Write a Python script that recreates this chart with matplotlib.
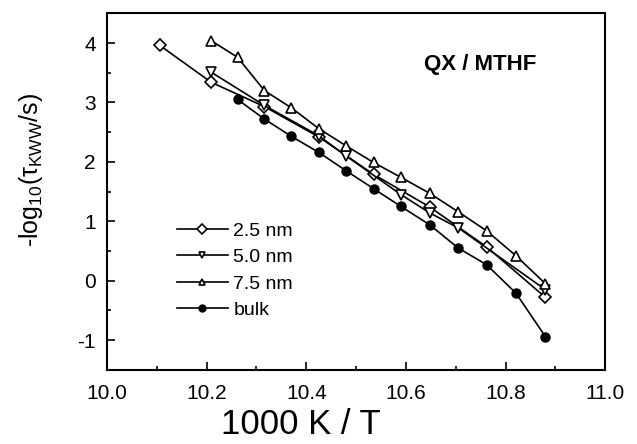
import numpy as np
import matplotlib.pyplot as plt
from matplotlib.ticker import MultipleLocator

plt.rcParams['font.family'] = ['Liberation Sans', 'DejaVu Sans']
plt.rcParams['mathtext.fontset'] = 'custom'
plt.rcParams['mathtext.rm'] = 'Liberation Sans'
plt.rcParams['mathtext.it'] = 'Liberation Sans'
plt.rcParams['axes.unicode_minus'] = False

# 2.5 nm pores
x25 = [10.106, 10.209, 10.316, 10.425, 10.535, 10.648, 10.762, 10.88]
y25 = [3.96, 3.34, 2.93, 2.42, 1.79, 1.24, 0.57, -0.28]

# 5.0 nm pores
x50 = [10.209, 10.316, 10.425, 10.48, 10.59, 10.648, 10.705, 10.88]
y50 = [3.51, 2.95, 2.44, 2.10, 1.45, 1.14, 0.89, -0.15]

# 7.5 nm pores
x75 = [10.209, 10.262, 10.316, 10.37, 10.425, 10.48, 10.535, 10.59,
       10.648, 10.705, 10.762, 10.821, 10.88]
y75 = [4.04, 3.76, 3.20, 2.91, 2.56, 2.27, 1.99, 1.74,
       1.47, 1.16, 0.84, 0.42, -0.05]

# bulk
xb = [10.262, 10.316, 10.37, 10.425, 10.48, 10.535, 10.59, 10.648,
      10.705, 10.762, 10.821, 10.88]
yb = [3.05, 2.72, 2.43, 2.16, 1.85, 1.55, 1.25, 0.94,
      0.55, 0.27, -0.21, -0.94]

fig = plt.figure(figsize=(6.37, 4.44), dpi=100)
ax = fig.add_axes([0.168, 0.167, 0.782, 0.803])

kw = dict(color='k', lw=1.2, mfc='white', mec='k', mew=1.2)
ax.plot(x25, y25, marker='D', ms=6, label='2.5 nm', **kw)
ax.plot(x50, y50, marker='v', ms=7, label='5.0 nm', **kw)
ax.plot(x75, y75, marker='^', ms=7, label='7.5 nm', **kw)
ax.plot(xb, yb, marker='o', ms=6.5, color='k', lw=1.2, mfc='k', mec='k',
        label='bulk')

ax.set_xlim(10.0, 11.0)
ax.set_ylim(-1.5, 4.5)
ax.xaxis.set_major_locator(MultipleLocator(0.2))
ax.xaxis.set_minor_locator(MultipleLocator(0.1))
ax.yaxis.set_major_locator(MultipleLocator(1))
ax.yaxis.set_minor_locator(MultipleLocator(0.5))
ax.tick_params(which='both', direction='in', top=False, right=False,
               labelsize=15, width=1.2)
ax.tick_params(which='major', length=6)
ax.tick_params(which='minor', length=3)
ax.tick_params(axis='x', pad=10)
ax.tick_params(axis='y', pad=8)
for s in ax.spines.values():
    s.set_linewidth(1.5)

ax.set_xlabel('1000 K / T', fontsize=25, va='center')
ax.xaxis.set_label_coords(0.39, -0.154)
ax.set_ylabel(r'-log$_{10}$($\tau_{\mathrm{KWW}}$/s)', fontsize=18)
ax.yaxis.set_label_coords(-0.125, 0.56)

ax.text(0.75, 0.857, 'QX / MTHF', transform=ax.transAxes, fontsize=16,
        fontweight='bold', ha='center', va='center')

leg = ax.legend(loc='upper left', bbox_to_anchor=(0.125, 0.436), frameon=False,
                fontsize=14, handlelength=2.6, handletextpad=0.3,
                labelspacing=0.45, borderaxespad=0)
for h in leg.legend_handles:
    h.set_markersize(5)

fig.savefig('out.png', dpi=100)
